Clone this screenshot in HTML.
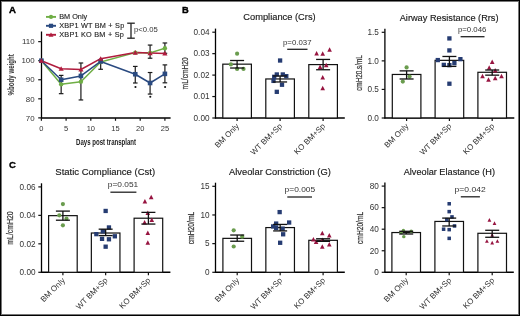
<!DOCTYPE html>
<html><head><meta charset="utf-8"><style>
html,body{margin:0;padding:0;background:#fff;width:520px;height:316px;overflow:hidden}
svg text{font-family:"Liberation Sans", sans-serif}
svg{will-change:transform}
</style></head><body>
<svg width="520" height="316" viewBox="0 0 520 316" style="display:block;font-family:'Liberation Sans', sans-serif">
<rect x="0" y="0" width="520" height="316" fill="#fff"/>
<text x="9.10" y="12.90" font-size="9.6" text-anchor="start" font-weight="bold" fill="#000" stroke="#000" stroke-width="0.4">A</text>
<line x1="41.50" y1="31.50" x2="41.50" y2="118.60" stroke="#000" stroke-width="1.3"/>
<line x1="40.90" y1="118.00" x2="170.60" y2="118.00" stroke="#000" stroke-width="1.5"/>
<line x1="38.20" y1="117.88" x2="41.50" y2="117.88" stroke="#111" stroke-width="1.2"/>
<text x="34.60" y="120.58" font-size="7.9" text-anchor="end" font-weight="normal" fill="#333" >70</text>
<line x1="38.20" y1="98.82" x2="41.50" y2="98.82" stroke="#111" stroke-width="1.2"/>
<text x="34.60" y="101.52" font-size="7.9" text-anchor="end" font-weight="normal" fill="#333" >80</text>
<line x1="38.20" y1="79.76" x2="41.50" y2="79.76" stroke="#111" stroke-width="1.2"/>
<text x="34.60" y="82.46" font-size="7.9" text-anchor="end" font-weight="normal" fill="#333" >90</text>
<line x1="38.20" y1="60.70" x2="41.50" y2="60.70" stroke="#111" stroke-width="1.2"/>
<text x="34.60" y="63.40" font-size="7.9" text-anchor="end" font-weight="normal" fill="#333" >100</text>
<line x1="38.20" y1="41.64" x2="41.50" y2="41.64" stroke="#111" stroke-width="1.2"/>
<text x="34.60" y="44.34" font-size="7.9" text-anchor="end" font-weight="normal" fill="#333" >110</text>
<line x1="41.40" y1="118.00" x2="41.40" y2="120.80" stroke="#111" stroke-width="1.2"/>
<text x="41.40" y="131.00" font-size="7.5" text-anchor="middle" font-weight="normal" fill="#333" >0</text>
<line x1="66.10" y1="118.00" x2="66.10" y2="120.80" stroke="#111" stroke-width="1.2"/>
<text x="66.10" y="131.00" font-size="7.5" text-anchor="middle" font-weight="normal" fill="#333" >5</text>
<line x1="90.80" y1="118.00" x2="90.80" y2="120.80" stroke="#111" stroke-width="1.2"/>
<text x="90.80" y="131.00" font-size="7.5" text-anchor="middle" font-weight="normal" fill="#333" >10</text>
<line x1="115.50" y1="118.00" x2="115.50" y2="120.80" stroke="#111" stroke-width="1.2"/>
<text x="115.50" y="131.00" font-size="7.5" text-anchor="middle" font-weight="normal" fill="#333" >15</text>
<line x1="140.20" y1="118.00" x2="140.20" y2="120.80" stroke="#111" stroke-width="1.2"/>
<text x="140.20" y="131.00" font-size="7.5" text-anchor="middle" font-weight="normal" fill="#333" >20</text>
<line x1="164.90" y1="118.00" x2="164.90" y2="120.80" stroke="#111" stroke-width="1.2"/>
<text x="164.90" y="131.00" font-size="7.5" text-anchor="middle" font-weight="normal" fill="#333" >25</text>
<text x="106.1" y="144.6" font-size="9.4" text-anchor="middle" fill="#222" textLength="60.0" lengthAdjust="spacingAndGlyphs" font-weight="bold">Days post transplant</text>
<text transform="translate(14.20,74.80) rotate(-90)" x="0" y="0" font-size="8.6" font-weight="bold" text-anchor="middle" fill="#333" textLength="41.2" lengthAdjust="spacingAndGlyphs">%body weight</text>
<line x1="61.16" y1="93.67" x2="61.16" y2="75.38" stroke="#1a1a1a" stroke-width="1.2"/>
<line x1="58.86" y1="93.67" x2="63.46" y2="93.67" stroke="#1a1a1a" stroke-width="1.2"/>
<line x1="58.86" y1="75.38" x2="63.46" y2="75.38" stroke="#1a1a1a" stroke-width="1.2"/>
<line x1="80.92" y1="99.96" x2="80.92" y2="62.99" stroke="#1a1a1a" stroke-width="1.2"/>
<line x1="78.62" y1="99.96" x2="83.22" y2="99.96" stroke="#1a1a1a" stroke-width="1.2"/>
<line x1="78.62" y1="62.99" x2="83.22" y2="62.99" stroke="#1a1a1a" stroke-width="1.2"/>
<line x1="100.68" y1="69.28" x2="100.68" y2="60.13" stroke="#1a1a1a" stroke-width="1.2"/>
<line x1="98.38" y1="69.28" x2="102.98" y2="69.28" stroke="#1a1a1a" stroke-width="1.2"/>
<line x1="98.38" y1="60.13" x2="102.98" y2="60.13" stroke="#1a1a1a" stroke-width="1.2"/>
<line x1="135.26" y1="83.00" x2="135.26" y2="66.42" stroke="#1a1a1a" stroke-width="1.2"/>
<line x1="132.96" y1="83.00" x2="137.56" y2="83.00" stroke="#1a1a1a" stroke-width="1.2"/>
<line x1="132.96" y1="66.42" x2="137.56" y2="66.42" stroke="#1a1a1a" stroke-width="1.2"/>
<line x1="150.08" y1="94.06" x2="150.08" y2="72.52" stroke="#1a1a1a" stroke-width="1.2"/>
<line x1="147.78" y1="94.06" x2="152.38" y2="94.06" stroke="#1a1a1a" stroke-width="1.2"/>
<line x1="147.78" y1="72.52" x2="152.38" y2="72.52" stroke="#1a1a1a" stroke-width="1.2"/>
<line x1="150.08" y1="58.22" x2="150.08" y2="45.07" stroke="#1a1a1a" stroke-width="1.2"/>
<line x1="147.78" y1="58.22" x2="152.38" y2="58.22" stroke="#1a1a1a" stroke-width="1.2"/>
<line x1="147.78" y1="45.07" x2="152.38" y2="45.07" stroke="#1a1a1a" stroke-width="1.2"/>
<line x1="164.90" y1="82.81" x2="164.90" y2="64.89" stroke="#1a1a1a" stroke-width="1.2"/>
<line x1="162.60" y1="82.81" x2="167.20" y2="82.81" stroke="#1a1a1a" stroke-width="1.2"/>
<line x1="162.60" y1="64.89" x2="167.20" y2="64.89" stroke="#1a1a1a" stroke-width="1.2"/>
<line x1="164.90" y1="53.27" x2="164.90" y2="42.97" stroke="#1a1a1a" stroke-width="1.2"/>
<line x1="162.60" y1="53.27" x2="167.20" y2="53.27" stroke="#1a1a1a" stroke-width="1.2"/>
<line x1="162.60" y1="42.97" x2="167.20" y2="42.97" stroke="#1a1a1a" stroke-width="1.2"/>
<polyline points="41.40,60.70 61.16,84.33 80.92,81.67 100.68,62.03 135.26,52.60 150.08,52.89 164.90,48.31" fill="none" stroke="#6fae45" stroke-width="1.5" stroke-linejoin="round"/>
<polyline points="41.40,60.70 61.16,79.76 80.92,75.95 100.68,61.46 135.26,74.23 150.08,83.00 164.90,73.85" fill="none" stroke="#2a4a80" stroke-width="1.5" stroke-linejoin="round"/>
<polyline points="41.40,60.70 61.16,68.71 80.92,69.47 100.68,58.70 135.26,52.60 150.08,53.08 164.90,53.46" fill="none" stroke="#b01c3e" stroke-width="1.5" stroke-linejoin="round"/>
<circle cx="41.40" cy="60.70" r="2.2" fill="#6fae45"/>
<circle cx="61.16" cy="84.33" r="2.2" fill="#6fae45"/>
<circle cx="80.92" cy="81.67" r="2.2" fill="#6fae45"/>
<circle cx="100.68" cy="62.03" r="2.2" fill="#6fae45"/>
<circle cx="135.26" cy="52.60" r="2.2" fill="#6fae45"/>
<circle cx="150.08" cy="52.89" r="2.2" fill="#6fae45"/>
<circle cx="164.90" cy="48.31" r="2.2" fill="#6fae45"/>
<rect x="39.10" y="58.40" width="4.6" height="4.6" fill="#2a4a80"/>
<rect x="58.86" y="77.46" width="4.6" height="4.6" fill="#2a4a80"/>
<rect x="78.62" y="73.65" width="4.6" height="4.6" fill="#2a4a80"/>
<rect x="98.38" y="59.16" width="4.6" height="4.6" fill="#2a4a80"/>
<rect x="132.96" y="71.93" width="4.6" height="4.6" fill="#2a4a80"/>
<rect x="147.78" y="80.70" width="4.6" height="4.6" fill="#2a4a80"/>
<rect x="162.60" y="71.55" width="4.6" height="4.6" fill="#2a4a80"/>
<polygon points="41.40,58.17 38.80,62.77 44.00,62.77" fill="#b01c3e"/>
<polygon points="61.16,66.18 58.56,70.78 63.76,70.78" fill="#b01c3e"/>
<polygon points="80.92,66.94 78.32,71.54 83.52,71.54" fill="#b01c3e"/>
<polygon points="100.68,56.17 98.08,60.77 103.28,60.77" fill="#b01c3e"/>
<polygon points="135.26,50.07 132.66,54.67 137.86,54.67" fill="#b01c3e"/>
<polygon points="150.08,50.55 147.48,55.15 152.68,55.15" fill="#b01c3e"/>
<polygon points="164.90,50.93 162.30,55.53 167.50,55.53" fill="#b01c3e"/>
<circle cx="135.46" cy="87.00" r="1.05" fill="#111"/>
<circle cx="150.28" cy="96.80" r="1.05" fill="#111"/>
<circle cx="165.10" cy="87.00" r="1.05" fill="#111"/>
<line x1="46.00" y1="16.90" x2="56.00" y2="16.90" stroke="#6fae45" stroke-width="1.9"/>
<circle cx="51.00" cy="16.90" r="2.1" fill="#6fae45"/>
<text x="59.20" y="19.20" font-size="7.3" text-anchor="start" font-weight="normal" fill="#222"  stroke="#222" stroke-width="0.12">BM Only</text>
<line x1="46.00" y1="25.80" x2="56.00" y2="25.80" stroke="#2a4a80" stroke-width="1.9"/>
<rect x="48.90" y="23.70" width="4.2" height="4.2" fill="#2a4a80"/>
<text x="59.20" y="28.30" font-size="7.3" text-anchor="start" font-weight="normal" fill="#222" textLength="65.0" lengthAdjust="spacing" stroke="#222" stroke-width="0.12">XBP1 WT BM + Sp</text>
<line x1="46.00" y1="34.80" x2="56.00" y2="34.80" stroke="#b01c3e" stroke-width="1.9"/>
<polygon points="51.00,32.42 48.50,36.75 53.50,36.75" fill="#b01c3e"/>
<text x="59.20" y="37.30" font-size="7.3" text-anchor="start" font-weight="normal" fill="#222" textLength="64.6" lengthAdjust="spacing" stroke="#222" stroke-width="0.12">XBP1 KO BM + Sp</text>
<line x1="127.20" y1="23.20" x2="134.80" y2="23.20" stroke="#222" stroke-width="1.3"/>
<line x1="131.00" y1="23.20" x2="131.00" y2="38.20" stroke="#222" stroke-width="1.3"/>
<line x1="127.20" y1="38.20" x2="134.80" y2="38.20" stroke="#222" stroke-width="1.3"/>
<text x="134.00" y="32.10" font-size="7.7" text-anchor="start" font-weight="normal" fill="#333" >p&lt;0.05</text>
<text x="182.00" y="12.90" font-size="9.3" text-anchor="start" font-weight="bold" fill="#000" stroke="#000" stroke-width="0.35">B</text>
<text x="9.00" y="167.60" font-size="9.5" text-anchor="start" font-weight="bold" fill="#000" stroke="#000" stroke-width="0.35">C</text>
<line x1="215.50" y1="28.60" x2="215.50" y2="118.60" stroke="#000" stroke-width="1.3"/>
<line x1="214.90" y1="118.00" x2="344.80" y2="118.00" stroke="#000" stroke-width="1.5"/>
<line x1="212.30" y1="118.00" x2="215.50" y2="118.00" stroke="#111" stroke-width="1.2"/>
<text x="209.50" y="120.80" font-size="8.2" text-anchor="end" font-weight="normal" fill="#333" >0.00</text>
<line x1="212.30" y1="96.55" x2="215.50" y2="96.55" stroke="#111" stroke-width="1.2"/>
<text x="209.50" y="99.35" font-size="8.2" text-anchor="end" font-weight="normal" fill="#333" >0.01</text>
<line x1="212.30" y1="75.10" x2="215.50" y2="75.10" stroke="#111" stroke-width="1.2"/>
<text x="209.50" y="77.90" font-size="8.2" text-anchor="end" font-weight="normal" fill="#333" >0.02</text>
<line x1="212.30" y1="53.65" x2="215.50" y2="53.65" stroke="#111" stroke-width="1.2"/>
<text x="209.50" y="56.45" font-size="8.2" text-anchor="end" font-weight="normal" fill="#333" >0.03</text>
<line x1="212.30" y1="32.20" x2="215.50" y2="32.20" stroke="#111" stroke-width="1.2"/>
<text x="209.50" y="35.00" font-size="8.2" text-anchor="end" font-weight="normal" fill="#333" >0.04</text>
<text x="243.30" y="20.30" font-size="9.31" text-anchor="start" font-weight="normal" fill="#1a1a1a" stroke="#1a1a1a" stroke-width="0.15">Compliance (Crs)</text>
<text x="283.00" y="44.60" font-size="7.8" text-anchor="start" font-weight="normal" fill="#333" textLength="28.5" lengthAdjust="spacingAndGlyphs">p=0.037</text>
<line x1="287.20" y1="49.30" x2="307.50" y2="49.30" stroke="#222" stroke-width="1.3"/>
<rect x="222.80" y="64.16" width="28.6" height="53.84" fill="#fff" stroke="#111" stroke-width="1.2"/>
<line x1="237.10" y1="118.00" x2="237.10" y2="121.00" stroke="#111" stroke-width="1.2"/>
<text transform="translate(239.70,126.60) rotate(-45)" font-size="8.0" text-anchor="end" fill="#333">BM Only</text>
<rect x="265.80" y="78.96" width="28.6" height="39.04" fill="#fff" stroke="#111" stroke-width="1.2"/>
<line x1="280.10" y1="118.00" x2="280.10" y2="121.00" stroke="#111" stroke-width="1.2"/>
<text transform="translate(282.70,126.60) rotate(-45)" font-size="8.0" text-anchor="end" fill="#333">WT BM+Sp</text>
<rect x="308.80" y="64.59" width="28.6" height="53.41" fill="#fff" stroke="#111" stroke-width="1.2"/>
<line x1="323.10" y1="118.00" x2="323.10" y2="121.00" stroke="#111" stroke-width="1.2"/>
<text transform="translate(325.70,126.60) rotate(-45)" font-size="8.0" text-anchor="end" fill="#333">KO BM+Sp</text>
<text transform="translate(187.60,73.35) rotate(-90)" x="0" y="0" font-size="9.6" font-weight="normal" text-anchor="middle" fill="#333" stroke="#333" stroke-width="0.22" textLength="32.1" lengthAdjust="spacingAndGlyphs">mL/cmH20</text>
<circle cx="237.10" cy="53.65" r="2.1" fill="#6a9c4e"/>
<circle cx="230.90" cy="64.38" r="2.1" fill="#6a9c4e"/>
<circle cx="237.10" cy="68.88" r="2.1" fill="#6a9c4e"/>
<circle cx="243.50" cy="68.88" r="2.1" fill="#6a9c4e"/>
<rect x="277.95" y="58.36" width="4.3" height="4.3" fill="#263c72"/>
<rect x="274.65" y="72.31" width="4.3" height="4.3" fill="#263c72"/>
<rect x="280.65" y="72.31" width="4.3" height="4.3" fill="#263c72"/>
<rect x="284.15" y="74.02" width="4.3" height="4.3" fill="#263c72"/>
<rect x="272.05" y="74.67" width="4.3" height="4.3" fill="#263c72"/>
<rect x="271.35" y="78.74" width="4.3" height="4.3" fill="#263c72"/>
<rect x="279.85" y="82.60" width="4.3" height="4.3" fill="#263c72"/>
<rect x="274.65" y="89.68" width="4.3" height="4.3" fill="#263c72"/>
<polygon points="316.60,50.96 314.30,55.46 318.90,55.46" fill="#971440"/>
<polygon points="322.70,51.18 320.40,55.68 325.00,55.68" fill="#971440"/>
<polygon points="329.60,47.31 327.30,51.81 331.90,51.81" fill="#971440"/>
<polygon points="320.10,64.47 317.80,68.97 322.40,68.97" fill="#971440"/>
<polygon points="326.20,62.76 323.90,67.26 328.50,67.26" fill="#971440"/>
<polygon points="322.70,74.98 320.40,79.48 325.00,79.48" fill="#971440"/>
<polygon points="322.70,85.71 320.40,90.21 325.00,90.21" fill="#971440"/>
<line x1="237.10" y1="68.02" x2="237.10" y2="60.51" stroke="#111" stroke-width="1.3"/>
<line x1="230.10" y1="68.02" x2="244.10" y2="68.02" stroke="#111" stroke-width="1.3"/>
<line x1="230.10" y1="60.51" x2="244.10" y2="60.51" stroke="#111" stroke-width="1.3"/>
<line x1="280.10" y1="81.96" x2="280.10" y2="75.96" stroke="#111" stroke-width="1.3"/>
<line x1="273.10" y1="81.96" x2="287.10" y2="81.96" stroke="#111" stroke-width="1.3"/>
<line x1="273.10" y1="75.96" x2="287.10" y2="75.96" stroke="#111" stroke-width="1.3"/>
<line x1="323.10" y1="69.74" x2="323.10" y2="59.44" stroke="#111" stroke-width="1.3"/>
<line x1="316.10" y1="69.74" x2="330.10" y2="69.74" stroke="#111" stroke-width="1.3"/>
<line x1="316.10" y1="59.44" x2="330.10" y2="59.44" stroke="#111" stroke-width="1.3"/>
<line x1="384.90" y1="28.70" x2="384.90" y2="118.60" stroke="#000" stroke-width="1.3"/>
<line x1="384.30" y1="118.00" x2="514.30" y2="118.00" stroke="#000" stroke-width="1.5"/>
<line x1="381.70" y1="118.00" x2="384.90" y2="118.00" stroke="#111" stroke-width="1.2"/>
<text x="378.90" y="120.80" font-size="8.2" text-anchor="end" font-weight="normal" fill="#333" >0.0</text>
<line x1="381.70" y1="89.43" x2="384.90" y2="89.43" stroke="#111" stroke-width="1.2"/>
<text x="378.90" y="92.23" font-size="8.2" text-anchor="end" font-weight="normal" fill="#333" >0.5</text>
<line x1="381.70" y1="60.87" x2="384.90" y2="60.87" stroke="#111" stroke-width="1.2"/>
<text x="378.90" y="63.67" font-size="8.2" text-anchor="end" font-weight="normal" fill="#333" >1.0</text>
<line x1="381.70" y1="32.30" x2="384.90" y2="32.30" stroke="#111" stroke-width="1.2"/>
<text x="378.90" y="35.10" font-size="8.2" text-anchor="end" font-weight="normal" fill="#333" >1.5</text>
<text x="399.70" y="20.50" font-size="9.22" text-anchor="start" font-weight="normal" fill="#1a1a1a" stroke="#1a1a1a" stroke-width="0.15">Airway Resistance (Rrs)</text>
<text x="457.90" y="32.00" font-size="7.8" text-anchor="start" font-weight="normal" fill="#333" textLength="28.5" lengthAdjust="spacingAndGlyphs">p=0.046</text>
<line x1="460.60" y1="36.70" x2="484.50" y2="36.70" stroke="#222" stroke-width="1.3"/>
<rect x="392.30" y="74.46" width="28.6" height="43.54" fill="#fff" stroke="#111" stroke-width="1.2"/>
<line x1="406.60" y1="118.00" x2="406.60" y2="121.00" stroke="#111" stroke-width="1.2"/>
<text transform="translate(409.20,126.60) rotate(-45)" font-size="8.0" text-anchor="end" fill="#333">BM Only</text>
<rect x="435.10" y="60.35" width="28.6" height="57.65" fill="#fff" stroke="#111" stroke-width="1.2"/>
<line x1="449.40" y1="118.00" x2="449.40" y2="121.00" stroke="#111" stroke-width="1.2"/>
<text transform="translate(452.00,126.60) rotate(-45)" font-size="8.0" text-anchor="end" fill="#333">WT BM+Sp</text>
<rect x="477.90" y="72.29" width="28.6" height="45.71" fill="#fff" stroke="#111" stroke-width="1.2"/>
<line x1="492.20" y1="118.00" x2="492.20" y2="121.00" stroke="#111" stroke-width="1.2"/>
<text transform="translate(494.80,126.60) rotate(-45)" font-size="8.0" text-anchor="end" fill="#333">KO BM+Sp</text>
<text transform="translate(361.60,73.00) rotate(-90)" x="0" y="0" font-size="9.6" font-weight="normal" text-anchor="middle" fill="#333" stroke="#333" stroke-width="0.22" textLength="35.7" lengthAdjust="spacingAndGlyphs">cmH20.s/mL</text>
<circle cx="406.60" cy="67.38" r="2.1" fill="#6a9c4e"/>
<circle cx="409.60" cy="76.58" r="2.1" fill="#6a9c4e"/>
<circle cx="402.80" cy="81.55" r="2.1" fill="#6a9c4e"/>
<rect x="447.25" y="36.26" width="4.3" height="4.3" fill="#263c72"/>
<rect x="447.25" y="48.26" width="4.3" height="4.3" fill="#263c72"/>
<rect x="435.65" y="57.92" width="4.3" height="4.3" fill="#263c72"/>
<rect x="458.25" y="57.00" width="4.3" height="4.3" fill="#263c72"/>
<rect x="441.65" y="62.72" width="4.3" height="4.3" fill="#263c72"/>
<rect x="447.25" y="63.00" width="4.3" height="4.3" fill="#263c72"/>
<rect x="452.25" y="61.00" width="4.3" height="4.3" fill="#263c72"/>
<rect x="447.25" y="81.57" width="4.3" height="4.3" fill="#263c72"/>
<polygon points="492.20,59.53 489.90,64.03 494.50,64.03" fill="#971440"/>
<polygon points="489.20,65.25 486.90,69.75 491.50,69.75" fill="#971440"/>
<polygon points="495.20,68.10 492.90,72.60 497.50,72.60" fill="#971440"/>
<polygon points="482.50,73.82 480.20,78.32 484.80,78.32" fill="#971440"/>
<polygon points="488.50,77.25 486.20,81.75 490.80,81.75" fill="#971440"/>
<polygon points="495.20,75.82 492.90,80.32 497.50,80.32" fill="#971440"/>
<polygon points="501.50,73.82 499.20,78.32 503.80,78.32" fill="#971440"/>
<line x1="406.60" y1="78.98" x2="406.60" y2="70.87" stroke="#111" stroke-width="1.3"/>
<line x1="399.60" y1="78.98" x2="413.60" y2="78.98" stroke="#111" stroke-width="1.3"/>
<line x1="399.60" y1="70.87" x2="413.60" y2="70.87" stroke="#111" stroke-width="1.3"/>
<line x1="449.40" y1="66.41" x2="449.40" y2="56.47" stroke="#111" stroke-width="1.3"/>
<line x1="442.40" y1="66.41" x2="456.40" y2="66.41" stroke="#111" stroke-width="1.3"/>
<line x1="442.40" y1="56.47" x2="456.40" y2="56.47" stroke="#111" stroke-width="1.3"/>
<line x1="492.20" y1="75.15" x2="492.20" y2="70.01" stroke="#111" stroke-width="1.3"/>
<line x1="485.20" y1="75.15" x2="499.20" y2="75.15" stroke="#111" stroke-width="1.3"/>
<line x1="485.20" y1="70.01" x2="499.20" y2="70.01" stroke="#111" stroke-width="1.3"/>
<line x1="41.50" y1="183.30" x2="41.50" y2="272.90" stroke="#000" stroke-width="1.3"/>
<line x1="40.90" y1="272.30" x2="170.40" y2="272.30" stroke="#000" stroke-width="1.5"/>
<line x1="38.30" y1="272.30" x2="41.50" y2="272.30" stroke="#111" stroke-width="1.2"/>
<text x="35.50" y="275.10" font-size="8.2" text-anchor="end" font-weight="normal" fill="#333" >0.00</text>
<line x1="38.30" y1="243.83" x2="41.50" y2="243.83" stroke="#111" stroke-width="1.2"/>
<text x="35.50" y="246.63" font-size="8.2" text-anchor="end" font-weight="normal" fill="#333" >0.02</text>
<line x1="38.30" y1="215.37" x2="41.50" y2="215.37" stroke="#111" stroke-width="1.2"/>
<text x="35.50" y="218.17" font-size="8.2" text-anchor="end" font-weight="normal" fill="#333" >0.04</text>
<line x1="38.30" y1="186.90" x2="41.50" y2="186.90" stroke="#111" stroke-width="1.2"/>
<text x="35.50" y="189.70" font-size="8.2" text-anchor="end" font-weight="normal" fill="#333" >0.06</text>
<text x="55.30" y="175.10" font-size="9.5" text-anchor="start" font-weight="normal" fill="#1a1a1a" stroke="#1a1a1a" stroke-width="0.15">Static Compliance (Cst)</text>
<text x="107.80" y="187.10" font-size="7.8" text-anchor="start" font-weight="normal" fill="#333" textLength="30.4" lengthAdjust="spacingAndGlyphs">p=0.051</text>
<line x1="110.40" y1="192.20" x2="136.40" y2="192.20" stroke="#222" stroke-width="1.3"/>
<rect x="48.60" y="215.65" width="28.6" height="56.65" fill="#fff" stroke="#111" stroke-width="1.2"/>
<line x1="62.90" y1="272.30" x2="62.90" y2="275.30" stroke="#111" stroke-width="1.2"/>
<text transform="translate(65.50,280.90) rotate(-45)" font-size="8.0" text-anchor="end" fill="#333">BM Only</text>
<rect x="91.35" y="233.02" width="28.6" height="39.28" fill="#fff" stroke="#111" stroke-width="1.2"/>
<line x1="105.65" y1="272.30" x2="105.65" y2="275.30" stroke="#111" stroke-width="1.2"/>
<text transform="translate(108.25,280.90) rotate(-45)" font-size="8.0" text-anchor="end" fill="#333">WT BM+Sp</text>
<rect x="134.10" y="218.21" width="28.6" height="54.09" fill="#fff" stroke="#111" stroke-width="1.2"/>
<line x1="148.40" y1="272.30" x2="148.40" y2="275.30" stroke="#111" stroke-width="1.2"/>
<text transform="translate(151.00,280.90) rotate(-45)" font-size="8.0" text-anchor="end" fill="#333">KO BM+Sp</text>
<text transform="translate(12.60,228.00) rotate(-90)" x="0" y="0" font-size="9.6" font-weight="normal" text-anchor="middle" fill="#333" stroke="#333" stroke-width="0.22" textLength="33.3" lengthAdjust="spacingAndGlyphs">mL/cmH20</text>
<circle cx="62.90" cy="204.12" r="2.1" fill="#6a9c4e"/>
<circle cx="59.30" cy="215.37" r="2.1" fill="#6a9c4e"/>
<circle cx="66.50" cy="218.64" r="2.1" fill="#6a9c4e"/>
<circle cx="62.90" cy="225.33" r="2.1" fill="#6a9c4e"/>
<rect x="103.50" y="208.80" width="4.3" height="4.3" fill="#263c72"/>
<rect x="106.80" y="225.31" width="4.3" height="4.3" fill="#263c72"/>
<rect x="100.70" y="229.16" width="4.3" height="4.3" fill="#263c72"/>
<rect x="94.20" y="232.00" width="4.3" height="4.3" fill="#263c72"/>
<rect x="112.70" y="234.14" width="4.3" height="4.3" fill="#263c72"/>
<rect x="99.90" y="236.70" width="4.3" height="4.3" fill="#263c72"/>
<rect x="106.80" y="237.13" width="4.3" height="4.3" fill="#263c72"/>
<rect x="103.50" y="244.53" width="4.3" height="4.3" fill="#263c72"/>
<polygon points="151.20,194.67 148.90,199.17 153.50,199.17" fill="#971440"/>
<polygon points="144.90,198.94 142.60,203.44 147.20,203.44" fill="#971440"/>
<polygon points="147.80,210.61 145.50,215.11 150.10,215.11" fill="#971440"/>
<polygon points="151.80,217.45 149.50,221.95 154.10,221.95" fill="#971440"/>
<polygon points="144.60,220.01 142.30,224.51 146.90,224.51" fill="#971440"/>
<polygon points="147.80,230.54 145.50,235.04 150.10,235.04" fill="#971440"/>
<polygon points="147.80,240.22 145.50,244.72 150.10,244.72" fill="#971440"/>
<line x1="62.90" y1="220.21" x2="62.90" y2="211.10" stroke="#111" stroke-width="1.3"/>
<line x1="55.90" y1="220.21" x2="69.90" y2="220.21" stroke="#111" stroke-width="1.3"/>
<line x1="55.90" y1="211.10" x2="69.90" y2="211.10" stroke="#111" stroke-width="1.3"/>
<line x1="105.65" y1="235.58" x2="105.65" y2="229.17" stroke="#111" stroke-width="1.3"/>
<line x1="98.65" y1="235.58" x2="112.65" y2="235.58" stroke="#111" stroke-width="1.3"/>
<line x1="98.65" y1="229.17" x2="112.65" y2="229.17" stroke="#111" stroke-width="1.3"/>
<line x1="148.40" y1="224.05" x2="148.40" y2="212.38" stroke="#111" stroke-width="1.3"/>
<line x1="141.40" y1="224.05" x2="155.40" y2="224.05" stroke="#111" stroke-width="1.3"/>
<line x1="141.40" y1="212.38" x2="155.40" y2="212.38" stroke="#111" stroke-width="1.3"/>
<line x1="215.50" y1="182.70" x2="215.50" y2="272.90" stroke="#000" stroke-width="1.3"/>
<line x1="214.90" y1="272.30" x2="344.80" y2="272.30" stroke="#000" stroke-width="1.5"/>
<line x1="212.30" y1="272.30" x2="215.50" y2="272.30" stroke="#111" stroke-width="1.2"/>
<text x="209.50" y="275.10" font-size="8.2" text-anchor="end" font-weight="normal" fill="#333" >0</text>
<line x1="212.30" y1="243.63" x2="215.50" y2="243.63" stroke="#111" stroke-width="1.2"/>
<text x="209.50" y="246.43" font-size="8.2" text-anchor="end" font-weight="normal" fill="#333" >5</text>
<line x1="212.30" y1="214.97" x2="215.50" y2="214.97" stroke="#111" stroke-width="1.2"/>
<text x="209.50" y="217.77" font-size="8.2" text-anchor="end" font-weight="normal" fill="#333" >10</text>
<line x1="212.30" y1="186.30" x2="215.50" y2="186.30" stroke="#111" stroke-width="1.2"/>
<text x="209.50" y="189.10" font-size="8.2" text-anchor="end" font-weight="normal" fill="#333" >15</text>
<text x="229.00" y="175.20" font-size="9.36" text-anchor="start" font-weight="normal" fill="#1a1a1a" stroke="#1a1a1a" stroke-width="0.15">Alveolar Constriction (G)</text>
<text x="284.60" y="191.80" font-size="7.8" text-anchor="start" font-weight="normal" fill="#333" textLength="30.6" lengthAdjust="spacingAndGlyphs">p=0.005</text>
<line x1="287.30" y1="197.00" x2="312.00" y2="197.00" stroke="#222" stroke-width="1.3"/>
<rect x="222.90" y="238.36" width="28.6" height="33.94" fill="#fff" stroke="#111" stroke-width="1.2"/>
<line x1="237.20" y1="272.30" x2="237.20" y2="275.30" stroke="#111" stroke-width="1.2"/>
<text transform="translate(239.80,280.90) rotate(-45)" font-size="8.0" text-anchor="end" fill="#333">BM Only</text>
<rect x="265.85" y="227.58" width="28.6" height="44.72" fill="#fff" stroke="#111" stroke-width="1.2"/>
<line x1="280.15" y1="272.30" x2="280.15" y2="275.30" stroke="#111" stroke-width="1.2"/>
<text transform="translate(282.75,280.90) rotate(-45)" font-size="8.0" text-anchor="end" fill="#333">WT BM+Sp</text>
<rect x="308.80" y="240.31" width="28.6" height="31.99" fill="#fff" stroke="#111" stroke-width="1.2"/>
<line x1="323.10" y1="272.30" x2="323.10" y2="275.30" stroke="#111" stroke-width="1.2"/>
<text transform="translate(325.70,280.90) rotate(-45)" font-size="8.0" text-anchor="end" fill="#333">KO BM+Sp</text>
<text transform="translate(194.30,228.00) rotate(-90)" x="0" y="0" font-size="9.6" font-weight="normal" text-anchor="middle" fill="#333" stroke="#333" stroke-width="0.22" textLength="32.6" lengthAdjust="spacingAndGlyphs">cmH20/mL</text>
<circle cx="233.70" cy="230.33" r="2.1" fill="#6a9c4e"/>
<circle cx="242.20" cy="236.64" r="2.1" fill="#6a9c4e"/>
<circle cx="233.70" cy="246.50" r="2.1" fill="#6a9c4e"/>
<rect x="277.50" y="209.95" width="4.3" height="4.3" fill="#263c72"/>
<rect x="287.00" y="220.38" width="4.3" height="4.3" fill="#263c72"/>
<rect x="274.00" y="221.42" width="4.3" height="4.3" fill="#263c72"/>
<rect x="271.00" y="224.28" width="4.3" height="4.3" fill="#263c72"/>
<rect x="274.00" y="225.72" width="4.3" height="4.3" fill="#263c72"/>
<rect x="280.50" y="226.46" width="4.3" height="4.3" fill="#263c72"/>
<rect x="281.00" y="232.14" width="4.3" height="4.3" fill="#263c72"/>
<rect x="278.00" y="240.62" width="4.3" height="4.3" fill="#263c72"/>
<polygon points="322.30,230.67 320.00,235.17 324.60,235.17" fill="#971440"/>
<polygon points="329.30,232.96 327.00,237.46 331.60,237.46" fill="#971440"/>
<polygon points="313.40,237.03 311.10,241.53 315.70,241.53" fill="#971440"/>
<polygon points="316.10,239.50 313.80,244.00 318.40,244.00" fill="#971440"/>
<polygon points="322.30,237.60 320.00,242.10 324.60,242.10" fill="#971440"/>
<polygon points="322.30,244.31 320.00,248.81 324.60,248.81" fill="#971440"/>
<polygon points="329.30,242.02 327.00,246.52 331.60,246.52" fill="#971440"/>
<line x1="237.20" y1="241.23" x2="237.20" y2="235.03" stroke="#111" stroke-width="1.3"/>
<line x1="230.20" y1="241.23" x2="244.20" y2="241.23" stroke="#111" stroke-width="1.3"/>
<line x1="230.20" y1="235.03" x2="244.20" y2="235.03" stroke="#111" stroke-width="1.3"/>
<line x1="280.15" y1="230.91" x2="280.15" y2="224.43" stroke="#111" stroke-width="1.3"/>
<line x1="273.15" y1="230.91" x2="287.15" y2="230.91" stroke="#111" stroke-width="1.3"/>
<line x1="273.15" y1="224.43" x2="287.15" y2="224.43" stroke="#111" stroke-width="1.3"/>
<line x1="323.10" y1="241.34" x2="323.10" y2="238.76" stroke="#111" stroke-width="1.3"/>
<line x1="316.10" y1="241.34" x2="330.10" y2="241.34" stroke="#111" stroke-width="1.3"/>
<line x1="316.10" y1="238.76" x2="330.10" y2="238.76" stroke="#111" stroke-width="1.3"/>
<line x1="384.90" y1="182.50" x2="384.90" y2="272.90" stroke="#000" stroke-width="1.3"/>
<line x1="384.30" y1="272.30" x2="513.80" y2="272.30" stroke="#000" stroke-width="1.5"/>
<line x1="381.70" y1="272.30" x2="384.90" y2="272.30" stroke="#111" stroke-width="1.2"/>
<text x="378.90" y="275.10" font-size="8.2" text-anchor="end" font-weight="normal" fill="#333" >0</text>
<line x1="381.70" y1="250.75" x2="384.90" y2="250.75" stroke="#111" stroke-width="1.2"/>
<text x="378.90" y="253.55" font-size="8.2" text-anchor="end" font-weight="normal" fill="#333" >20</text>
<line x1="381.70" y1="229.20" x2="384.90" y2="229.20" stroke="#111" stroke-width="1.2"/>
<text x="378.90" y="232.00" font-size="8.2" text-anchor="end" font-weight="normal" fill="#333" >40</text>
<line x1="381.70" y1="207.65" x2="384.90" y2="207.65" stroke="#111" stroke-width="1.2"/>
<text x="378.90" y="210.45" font-size="8.2" text-anchor="end" font-weight="normal" fill="#333" >60</text>
<line x1="381.70" y1="186.10" x2="384.90" y2="186.10" stroke="#111" stroke-width="1.2"/>
<text x="378.90" y="188.90" font-size="8.2" text-anchor="end" font-weight="normal" fill="#333" >80</text>
<text x="403.70" y="175.20" font-size="9.19" text-anchor="start" font-weight="normal" fill="#1a1a1a" stroke="#1a1a1a" stroke-width="0.15">Alveolar Elastance (H)</text>
<text x="454.60" y="191.60" font-size="7.8" text-anchor="start" font-weight="normal" fill="#333" textLength="31.1" lengthAdjust="spacingAndGlyphs">p=0.042</text>
<line x1="460.80" y1="196.80" x2="479.90" y2="196.80" stroke="#222" stroke-width="1.3"/>
<rect x="391.90" y="232.54" width="28.6" height="39.76" fill="#fff" stroke="#111" stroke-width="1.2"/>
<line x1="406.20" y1="272.30" x2="406.20" y2="275.30" stroke="#111" stroke-width="1.2"/>
<text transform="translate(408.80,280.90) rotate(-45)" font-size="8.0" text-anchor="end" fill="#333">BM Only</text>
<rect x="434.90" y="221.44" width="28.6" height="50.86" fill="#fff" stroke="#111" stroke-width="1.2"/>
<line x1="449.20" y1="272.30" x2="449.20" y2="275.30" stroke="#111" stroke-width="1.2"/>
<text transform="translate(451.80,280.90) rotate(-45)" font-size="8.0" text-anchor="end" fill="#333">WT BM+Sp</text>
<rect x="477.90" y="233.29" width="28.6" height="39.01" fill="#fff" stroke="#111" stroke-width="1.2"/>
<line x1="492.20" y1="272.30" x2="492.20" y2="275.30" stroke="#111" stroke-width="1.2"/>
<text transform="translate(494.80,280.90) rotate(-45)" font-size="8.0" text-anchor="end" fill="#333">KO BM+Sp</text>
<text transform="translate(363.40,227.90) rotate(-90)" x="0" y="0" font-size="9.6" font-weight="normal" text-anchor="middle" fill="#333" stroke="#333" stroke-width="0.22" textLength="32.2" lengthAdjust="spacingAndGlyphs">cmH20/mL</text>
<circle cx="403.40" cy="230.39" r="1.722" fill="#6a9c4e"/>
<circle cx="403.80" cy="236.63" r="1.722" fill="#6a9c4e"/>
<circle cx="411.20" cy="231.14" r="1.722" fill="#6a9c4e"/>
<circle cx="401.20" cy="232.54" r="1.722" fill="#6a9c4e"/>
<rect x="447.44" y="202.01" width="3.526" height="3.526" fill="#263c72"/>
<rect x="447.44" y="209.87" width="3.526" height="3.526" fill="#263c72"/>
<rect x="450.24" y="215.15" width="3.526" height="3.526" fill="#263c72"/>
<rect x="445.04" y="217.85" width="3.526" height="3.526" fill="#263c72"/>
<rect x="441.84" y="227.44" width="3.526" height="3.526" fill="#263c72"/>
<rect x="447.44" y="227.87" width="3.526" height="3.526" fill="#263c72"/>
<rect x="452.74" y="224.20" width="3.526" height="3.526" fill="#263c72"/>
<rect x="447.44" y="236.60" width="3.526" height="3.526" fill="#263c72"/>
<polygon points="489.40,218.12 487.51,221.81 491.29,221.81" fill="#971440"/>
<polygon points="494.50,221.35 492.61,225.04 496.39,225.04" fill="#971440"/>
<polygon points="492.20,233.10 490.31,236.79 494.09,236.79" fill="#971440"/>
<polygon points="486.90,239.13 485.01,242.82 488.79,242.82" fill="#971440"/>
<polygon points="492.20,240.85 490.31,244.54 494.09,244.54" fill="#971440"/>
<polygon points="497.40,239.13 495.51,242.82 499.29,242.82" fill="#971440"/>
<line x1="406.20" y1="233.99" x2="406.20" y2="231.30" stroke="#111" stroke-width="1.3"/>
<line x1="399.20" y1="233.99" x2="413.20" y2="233.99" stroke="#111" stroke-width="1.3"/>
<line x1="399.20" y1="231.30" x2="413.20" y2="231.30" stroke="#111" stroke-width="1.3"/>
<line x1="449.20" y1="225.97" x2="449.20" y2="218.10" stroke="#111" stroke-width="1.3"/>
<line x1="442.20" y1="225.97" x2="456.20" y2="225.97" stroke="#111" stroke-width="1.3"/>
<line x1="442.20" y1="218.10" x2="456.20" y2="218.10" stroke="#111" stroke-width="1.3"/>
<line x1="492.20" y1="237.28" x2="492.20" y2="230.28" stroke="#111" stroke-width="1.3"/>
<line x1="485.20" y1="237.28" x2="499.20" y2="237.28" stroke="#111" stroke-width="1.3"/>
<line x1="485.20" y1="230.28" x2="499.20" y2="230.28" stroke="#111" stroke-width="1.3"/>
<rect x="0.5" y="0.5" width="519" height="315" fill="none" stroke="#000" stroke-width="1"/>
<rect x="1.5" y="1.5" width="517" height="313" fill="none" stroke="#777" stroke-width="1"/>
</svg>
</body></html>
